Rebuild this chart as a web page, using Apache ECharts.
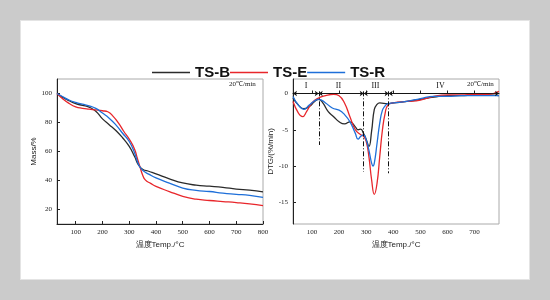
<!DOCTYPE html>
<html>
<head>
    <meta charset="utf-8">
    <title>TG / DTG</title>
    <style>
        body { margin: 0; background: #cbcbcb; }
        #panel { position: absolute; left: 20px; top: 20px; width: 508px; height: 258px; background: #fff; border: 1px solid #e4e4e4; }
        #chart { position: absolute; left: 0; top: 0; width: 550px; height: 300px; }
    </style>
</head>
<body>
<div id="panel"></div>
<div id="chart"></div>
<script src="https://cdn.jsdelivr.net/npm/echarts@6/dist/echarts.min.js"></script>
<script type="text/javascript">
    // 样品名称
    const names = ['TS-B', 'TS-E', 'TS-R'];
    const colors = ['#2b2b2b', '#e8262b', '#1e6fd9'];

    // TG 曲线 (温度, 质量%)
    const tgB = [[30,100],[50,97.5],[75,95],[100,93],[125,91.8],[150,90.6],[175,87.8],[200,82.5],[225,78.5],[250,74.5],[275,69.5],[300,63.5],[320,56.5],[335,50.5],[350,47.8],[375,46.2],[400,44.6],[450,41.2],[500,38.3],[550,36.8],[600,36.1],[650,35.3],[700,34.1],[750,33.3],[800,32.2]];
    const tgE = [[30,100],[50,96.6],[75,93.2],[100,90.8],[125,89.8],[150,89.2],[175,88.7],[200,88.1],[220,87.4],[240,84.2],[260,79.5],[280,73.8],[300,68.5],[320,61.6],[330,55.5],[340,49.5],[350,43.8],[360,40.4],[380,38],[400,35.9],[450,32.4],[500,29.1],[550,27.1],[600,26.2],[650,25.5],[700,24.8],[750,23.9],[800,22.6]];
    const tgR = [[30,100],[50,97.9],[75,95.5],[100,93.8],[125,92.6],[150,91.5],[175,89.7],[200,86.5],[225,83],[250,78.4],[275,72.6],[300,66.9],[320,59],[335,51],[350,47],[375,44.2],[400,41.8],[450,38.2],[500,34.8],[550,33.2],[600,32.4],[650,31.3],[700,30.5],[750,29.7],[800,28.3]];

    // DTG 曲线 (温度, %/min)
    const dtgB = [[30,-0.6],[50,-1.6],[70,-2.1],[90,-1.8],[110,-1.1],[125,-0.8],[140,-1.3],[160,-2.5],[180,-3.2],[200,-3.9],[220,-4.2],[240,-3.9],[260,-4.6],[270,-5],[280,-4.9],[290,-5.5],[300,-6.3],[310,-7.3],[320,-5.2],[330,-2.2],[340,-1.5],[350,-1.3],[380,-1.4],[400,-1.3],[450,-1.1],[500,-0.8],[550,-0.5],[600,-0.3],[650,-0.3],[700,-0.2],[750,-0.2],[790,-0.3]];
    const dtgE = [[30,-1.1],[50,-2.7],[65,-3.2],[80,-2.5],[100,-1.3],[120,-0.7],[150,-0.3],[180,-0.1],[200,-0.3],[220,-1.3],[240,-3.2],[260,-5],[280,-5.7],[290,-5.9],[300,-6.6],[310,-8.7],[320,-11.9],[330,-13.9],[340,-12.4],[350,-8.7],[360,-5],[370,-2.7],[380,-1.6],[400,-1.3],[450,-1.1],[500,-0.9],[550,-0.4],[600,-0.2],[650,-0.2],[700,-0.1],[750,-0.1],[790,0.3]];
    const dtgR = [[30,-0.4],[50,-1.6],[70,-2.2],[90,-1.6],[110,-1],[125,-0.8],[150,-1.3],[175,-2],[200,-2.3],[220,-2.9],[240,-3.9],[260,-5.5],[270,-6.3],[280,-5.9],[290,-5.7],[300,-6.4],[310,-7.8],[320,-9.6],[325,-10],[330,-9.6],[340,-6.9],[350,-4.1],[360,-2.3],[370,-1.7],[380,-1.4],[400,-1.3],[450,-1.1],[500,-0.7],[550,-0.4],[600,-0.4],[650,-0.3],[700,-0.3],[790,-0.3]];

    // 刻度标签
    const tgXTicks = [100, 200, 300, 400, 500, 600, 700, 800];
    const tgYTicks = [20, 40, 60, 80, 100];
    const dtgXTicks = [100, 200, 300, 400, 500, 600, 700];
    const dtgYTicks = [-15, -10, -5, 0];

    // 阶段分界 (温度, 下端 DTG)
    const stageBounds = [[125, -7.1], [291, -10.8], [383, -11]];
    const stageNames = ['I', 'II', 'III', 'IV'];
    const stageLabelX = [78, 198, 334, 574];

    let myChart = echarts.init(document.getElementById('chart'), null, {renderer: 'canvas'});

    const serif = 'Liberation Serif';
    function xAxisOf(idx, max, ticks) {
        return {
            type: 'value', gridIndex: idx, min: 30, max: max,
            name: '温度Temp./°C', nameLocation: 'middle', nameGap: 17,
            nameTextStyle: {fontSize: 8, color: '#222', fontFamily: 'Liberation Sans'},
            axisLine: {show: true, lineStyle: {color: '#222', width: 1}},
            axisTick: {show: true, inside: true, length: 3, customValues: ticks, lineStyle: {color: '#222'}},
            axisLabel: {customValues: ticks, fontSize: 7, color: '#222', fontFamily: serif, margin: 5},
            splitLine: {show: false}
        };
    }
    function yAxisOf(idx, min, max, ticks, name, gap) {
        return {
            type: 'value', gridIndex: idx, min: min, max: max,
            name: name, nameLocation: 'middle', nameGap: gap,
            nameTextStyle: {fontSize: 8, color: '#222', fontFamily: 'Liberation Sans'},
            axisLine: {show: true, lineStyle: {color: '#222', width: 1}},
            axisTick: {show: true, inside: true, length: 3, customValues: ticks, lineStyle: {color: '#222'}},
            axisLabel: {customValues: ticks, fontSize: 7, color: '#222', fontFamily: serif, margin: 5},
            splitLine: {show: false}
        };
    }

    const dtgData = [dtgB, dtgE, dtgR];
    const tgData = [tgB, tgE, tgR];
    const series = [];
    names.forEach((n, i) => {
        series.push({
            name: n, type: 'line', xAxisIndex: 0, yAxisIndex: 0, data: tgData[i],
            smooth: true, showSymbol: false, lineStyle: {color: colors[i], width: 1.3}, itemStyle: {color: colors[i]}
        });
    });
    names.forEach((n, i) => {
        series.push({
            name: n, type: 'line', xAxisIndex: 1, yAxisIndex: 1, data: dtgData[i],
            smooth: true, showSymbol: false, lineStyle: {color: colors[i], width: 1.3}, itemStyle: {color: colors[i]}
        });
    });

    // 阶段竖线和箭头
    const edges = [30].concat(stageBounds.map(b => b[0])).concat([790]);
    const markLines = [];
    stageBounds.forEach(b => {
        markLines.push([{coord: [b[0], 0.3], symbol: 'none'}, {coord: [b[0], b[1]], symbol: 'none',
            lineStyle: {type: [5, 2, 1, 2], color: '#111', width: 1}}]);
    });
    for (let k = 0; k < 4; k++) {
        markLines.push([{coord: [edges[k], 0], symbol: 'arrow'}, {coord: [edges[k + 1], 0], symbol: 'arrow',
            lineStyle: {type: 'solid', color: '#111', width: 0.8}}]);
    }
    series.push({
        type: 'line', xAxisIndex: 1, yAxisIndex: 1, data: [], silent: true,
        markLine: {silent: true, symbolSize: 4, label: {show: false}, lineStyle: {color: '#111', width: 1}, data: markLines},
        markPoint: {
            silent: true, symbol: 'circle', symbolSize: 0,
            label: {show: true, fontSize: 8, fontFamily: serif, color: '#111', formatter: p => p.name},
            data: stageNames.map((s, k) => ({name: s, coord: [stageLabelX[k], 1]}))
        }
    });

    myChart.setOption({
        animation: false,
        legend: {
            top: 60, left: 147, itemGap: 0, itemWidth: 38, itemHeight: 1.5, icon: 'rect',
            textStyle: {fontSize: 15, fontWeight: 'bold', color: '#111', fontFamily: 'Liberation Sans'},
            data: names
        },
        grid: [
            {left: 57, top: 79, width: 206, height: 145, show: true, borderColor: '#aaa', borderWidth: 1, backgroundColor: 'transparent'},
            {left: 293, top: 79, width: 206, height: 145, show: true, borderColor: '#aaa', borderWidth: 1, backgroundColor: 'transparent'}
        ],
        xAxis: [xAxisOf(0, 800, tgXTicks), xAxisOf(1, 790, dtgXTicks)],
        yAxis: [yAxisOf(0, 10, 110, tgYTicks, 'Mass/%', 18), yAxisOf(1, -18, 2, dtgYTicks, 'DTG/(%/min)', 15)],
        graphic: [
            {type: 'text', left: 229, top: 81, style: {text: '20℃/min', fontSize: 7, fontFamily: serif, fill: '#222'}},
            {type: 'text', left: 467, top: 81, style: {text: '20℃/min', fontSize: 7, fontFamily: serif, fill: '#222'}}
        ],
        series: series
    });
</script>
</body>
</html>
